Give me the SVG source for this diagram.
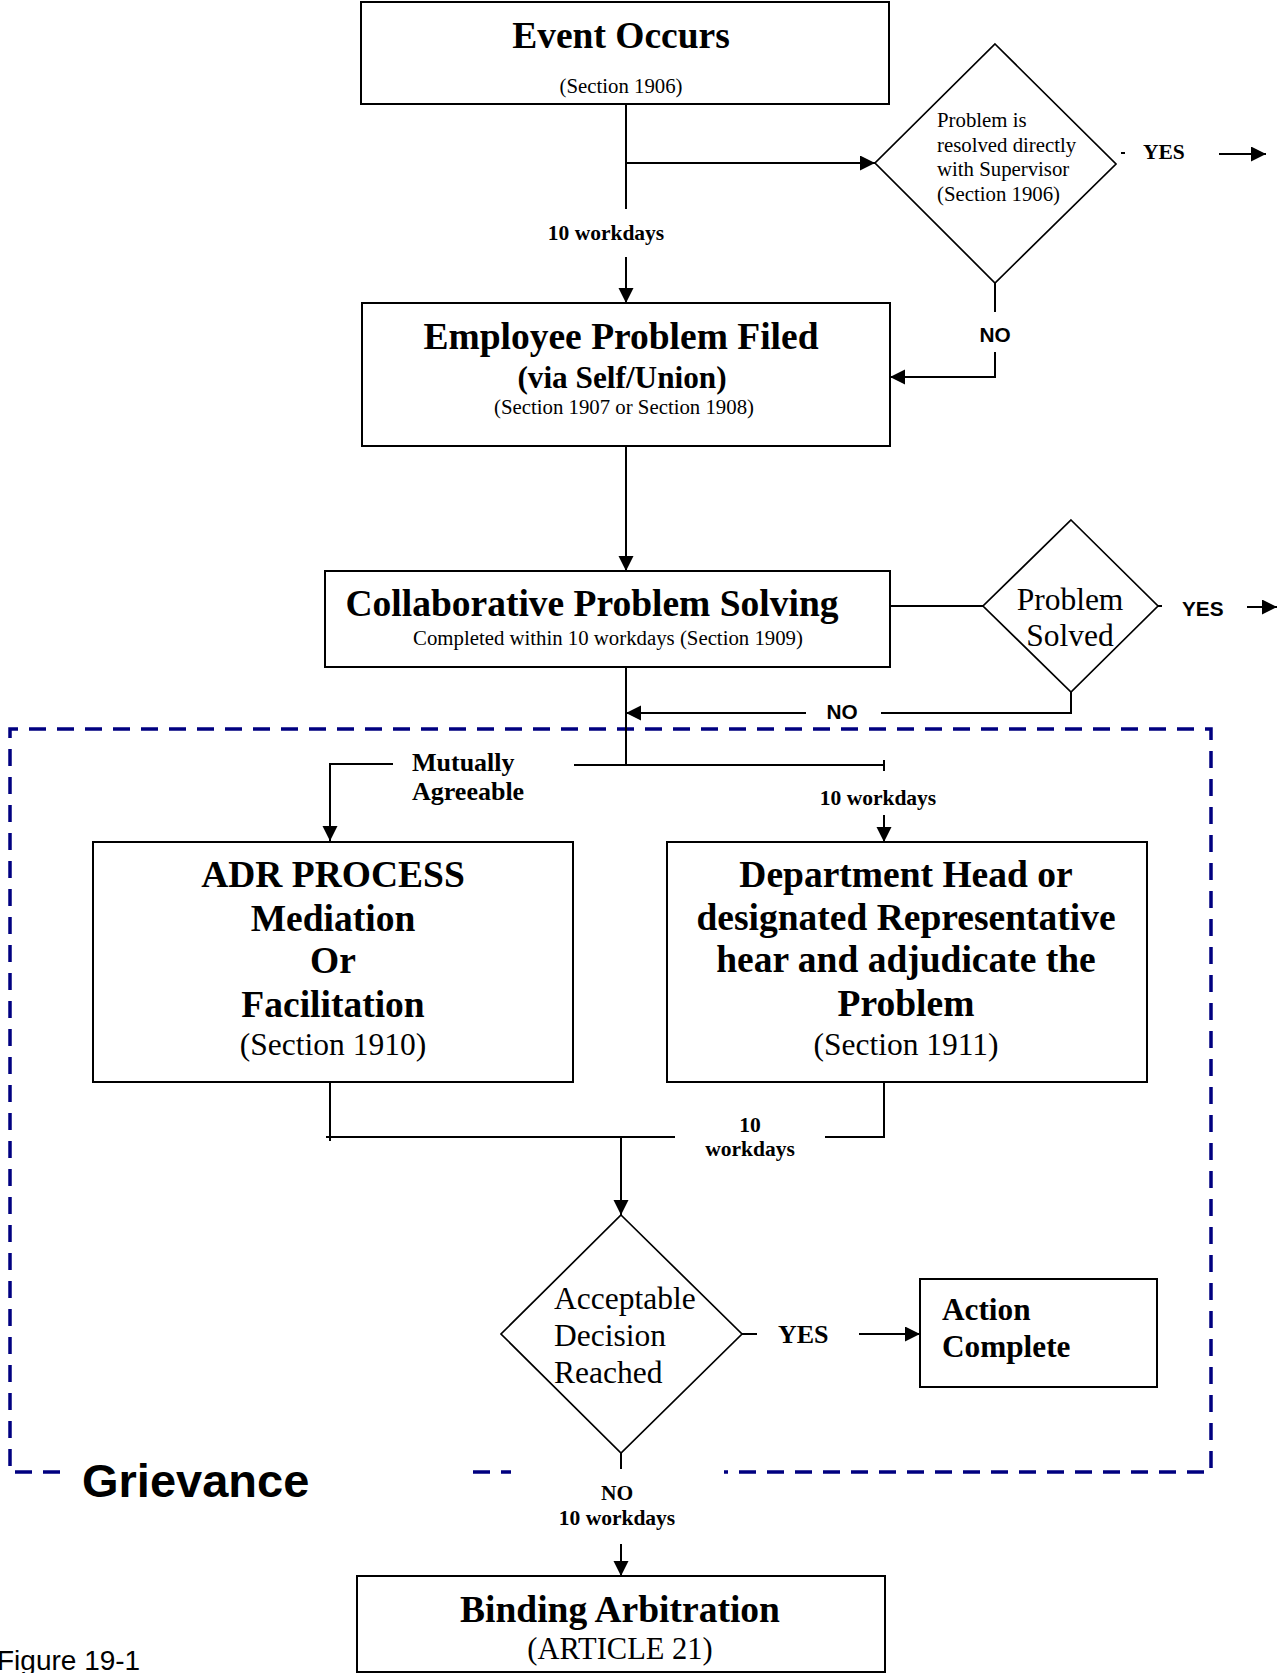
<svg xmlns="http://www.w3.org/2000/svg" width="1277" height="1673" viewBox="0 0 1277 1673">
<style>
.box{fill:#fff;stroke:#000;stroke-width:2}
.dia{fill:#fff;stroke:#000;stroke-width:1.7}
.ln{fill:none;stroke:#000;stroke-width:2}
.arr{fill:none;stroke:#000;stroke-width:2;marker-end:url(#ah)}
.dash{fill:none;stroke:#000080;stroke-width:3.5;stroke-dasharray:17 11}
.tb{font-family:"Liberation Serif","Times New Roman",serif;font-weight:bold;font-size:37.5px;text-anchor:middle}
.tb2{font-family:"Liberation Serif","Times New Roman",serif;font-weight:bold;font-size:31.25px}
.ts{font-family:"Liberation Serif","Times New Roman",serif;font-size:20.8px}
.tm{font-family:"Liberation Serif","Times New Roman",serif;font-size:31.5px}
.lb{font-family:"Liberation Serif","Times New Roman",serif;font-weight:bold;font-size:21.5px}
.lb26{font-family:"Liberation Serif","Times New Roman",serif;font-weight:bold;font-size:26px}
.ab{font-family:"Liberation Sans",Arial,sans-serif;font-weight:bold;font-size:20.8px}
.mid{text-anchor:middle}
</style>
<defs>
<marker id="ah" markerUnits="userSpaceOnUse" markerWidth="16" markerHeight="16" refX="15" refY="7.5" orient="auto">
<path d="M0,0 L15,7.5 L0,15 z" fill="#000"/>
</marker>
</defs>
<rect width="1277" height="1673" fill="#fff"/>

<g id="grievance-frame">
<path class="dash" d="M60,1472 H10 V729 H1211 V1472 H724"/>
<path class="dash" d="M473,1472 H511"/>
<text x="82" y="1497" font-family="'Liberation Sans',Arial,sans-serif" font-weight="bold" font-size="47">Grievance</text>
</g>

<g id="connectors">
<path class="ln" d="M626,100 V209"/>
<path class="arr" d="M626,163 H875"/>
<path class="arr" d="M626,257 V303"/>
<path class="ln" d="M1121,153 H1125"/>
<path class="arr" d="M1219,154 H1266"/>
<path class="ln" d="M995,283 V312"/>
<path class="arr" d="M995,352 V377 H890"/>
<path class="arr" d="M626,446 V571"/>
<path class="ln" d="M890,606 H983"/>
<path class="ln" d="M1158,606 H1162"/>
<path class="arr" d="M1247,607 H1277"/>
<path class="ln" d="M1071,692 V713 H881"/>
<path class="arr" d="M806,713 H626"/>
<path class="ln" d="M626,667 V765"/>
<path class="ln" d="M574,765 H884"/>
<path class="ln" d="M884,760 V771"/>
<path class="arr" d="M393,764 H330 V841"/>
<path class="arr" d="M884,815 V842"/>
<path class="ln" d="M330,1082 V1141"/>
<path class="ln" d="M326,1137 H675"/>
<path class="ln" d="M884,1082 V1137 H825"/>
<path class="arr" d="M621,1137 V1215"/>
<path class="ln" d="M742,1334 H757"/>
<path class="arr" d="M859,1334 H920"/>
<path class="ln" d="M621,1453 V1469"/>
<path class="arr" d="M621,1544 V1576"/>
<text class="lb mid" x="606" y="240">10 workdays</text>
<text class="ab mid" x="995" y="342">NO</text>
<text class="lb" x="1143" y="159">YES</text>
<text class="ab" x="1182" y="616">YES</text>
<text class="ab mid" x="842" y="719">NO</text>
<text class="lb26" x="412" y="771">Mutually</text>
<text class="lb26" x="412" y="800">Agreeable</text>
<text class="lb mid" x="878" y="805">10 workdays</text>
<text class="lb mid" x="750" y="1132">10</text>
<text class="lb mid" x="750" y="1156">workdays</text>
<text class="lb26" x="778" y="1343">YES</text>
<text class="lb mid" x="617" y="1500">NO</text>
<text class="lb mid" x="617" y="1525">10 workdays</text>
</g>

<g id="event-occurs">
<rect class="box" x="361" y="2" width="528" height="102"/>
<text class="tb" x="621" y="48">Event Occurs</text>
<text class="ts mid" x="621" y="93">(Section 1906)</text>
</g>

<g id="resolved-with-supervisor">
<polygon class="dia" points="995,44 1116,164 995,283 875,163"/>
<text class="ts" x="937" y="127">Problem is</text>
<text class="ts" x="937" y="152">resolved directly</text>
<text class="ts" x="937" y="176">with Supervisor</text>
<text class="ts" x="937" y="201">(Section 1906)</text>
</g>

<g id="employee-problem-filed">
<rect class="box" x="362" y="303" width="528" height="143"/>
<text class="tb" x="621" y="349">Employee Problem Filed</text>
<text class="tb2 mid" x="622" y="388">(via Self/Union)</text>
<text class="ts mid" x="624" y="414">(Section 1907 or Section 1908)</text>
</g>

<g id="collaborative-problem-solving">
<rect class="box" x="325" y="571" width="565" height="96"/>
<text class="tb" x="592" y="616">Collaborative Problem Solving</text>
<text class="ts mid" x="608" y="645">Completed within 10 workdays (Section 1909)</text>
</g>

<g id="problem-solved">
<polygon class="dia" points="1071,520 1158,606 1071,692 983,606"/>
<text class="tm mid" x="1070" y="610">Problem</text>
<text class="tm mid" x="1070" y="646">Solved</text>
</g>

<g id="adr-process">
<rect class="box" x="93" y="842" width="480" height="240"/>
<text class="tb" x="333" y="887">ADR PROCESS</text>
<text class="tb" x="333" y="931">Mediation</text>
<text class="tb" x="333" y="973">Or</text>
<text class="tb" x="333" y="1017">Facilitation</text>
<text class="tm mid" x="333" y="1055">(Section 1910)</text>
</g>

<g id="department-head">
<rect class="box" x="667" y="842" width="480" height="240"/>
<text class="tb" x="906" y="887">Department Head or</text>
<text class="tb" x="906" y="930">designated Representative</text>
<text class="tb" x="906" y="972">hear and adjudicate the</text>
<text class="tb" x="906" y="1016">Problem</text>
<text class="tm mid" x="906" y="1055">(Section 1911)</text>
</g>

<g id="acceptable-decision">
<polygon class="dia" points="621,1215 742,1334 621,1453 501,1334"/>
<text class="tm" x="554" y="1309">Acceptable</text>
<text class="tm" x="554" y="1346">Decision</text>
<text class="tm" x="554" y="1383">Reached</text>
</g>

<g id="action-complete">
<rect class="box" x="920" y="1279" width="237" height="108"/>
<text class="tb2" x="942" y="1320">Action</text>
<text class="tb2" x="942" y="1357">Complete</text>
</g>

<g id="binding-arbitration">
<rect class="box" x="357" y="1576" width="528" height="96"/>
<text class="tb" x="620" y="1622">Binding Arbitration</text>
<text class="tm mid" x="620" y="1659" style="font-size:30.5px">(ARTICLE 21)</text>
</g>

<text x="-3" y="1670" font-family="'Liberation Sans',Arial,sans-serif" font-size="28">Figure 19-1</text>
</svg>
